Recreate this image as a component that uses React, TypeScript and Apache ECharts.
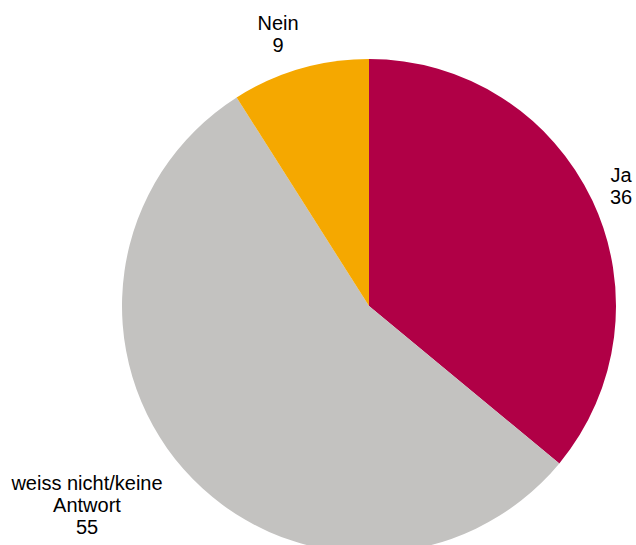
import React, { useEffect, useRef } from "react";
import * as echarts from "echarts";

const categories = ["Ja", "weiss nicht/keine Antwort", "Nein"];
const values = [36, 55, 9];
const colors = ["#B00046", "#C3C2C0", "#F5A800"];

export default function App() {
  const ref = useRef<HTMLDivElement>(null);
  useEffect(() => {
    if (!ref.current) return;
    const chart = echarts.init(ref.current, null, { renderer: "svg" });
    const labelPos: Record<number, [number, number]> = {
      0: [621, 186],
      1: [87, 505],
      2: [278, 34],
    };
    chart.setOption({
      animation: false,
      backgroundColor: "#ffffff",
      series: [
        {
          type: "pie",
          center: [369, 306],
          radius: 247,
          startAngle: 90,
          clockwise: true,
          silent: true,
          avoidLabelOverlap: false,
          data: categories.map((c, i) => ({
            name: c,
            value: values[i],
            itemStyle: { color: colors[i] },
          })),
          label: {
            show: true,
            position: "outside",
            formatter: (p: any) => `${String(p.name).replace("keine ", "keine\n")}\n${p.value}`,
            fontFamily: "Liberation Sans, Arial, sans-serif",
            fontSize: 20,
            lineHeight: 22,
            color: "#000000",
            align: "center",
            overflow: "none",
            bleedMargin: 0,
          },
          labelLine: { show: false },
          labelLayout: (params: any) => {
            const pos = labelPos[params.dataIndex];
            return {
              x: pos[0],
              y: pos[1],
              align: "center",
              verticalAlign: "middle",
              hideOverlap: false,
            };
          },
        },
      ],
    });
    return () => chart.dispose();
  }, []);
  return (
    <div
      ref={ref}
      style={{ position: "fixed", left: 0, top: 0, width: 636, height: 545 }}
    />
  );
}
